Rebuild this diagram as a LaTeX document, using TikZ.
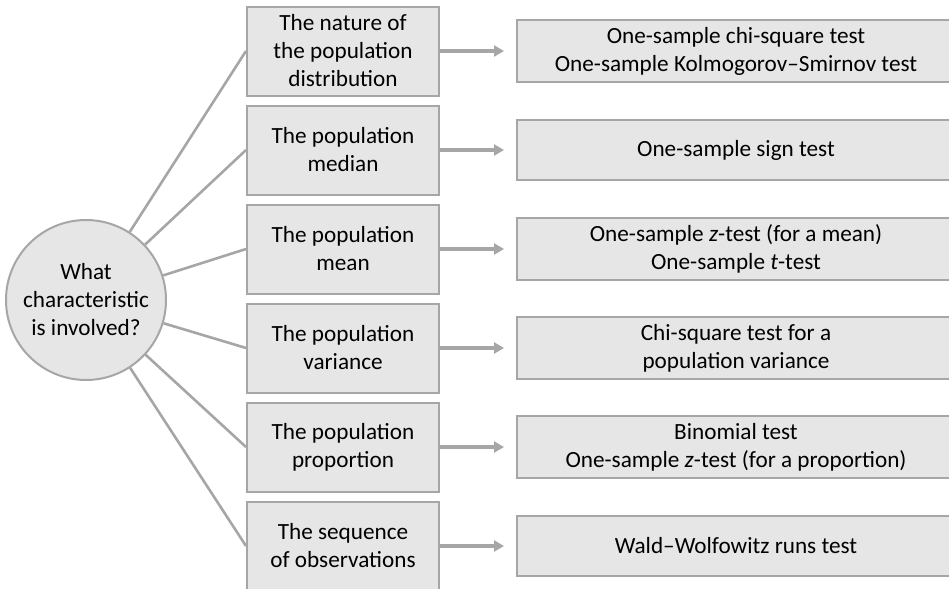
\documentclass[tikz,border=0pt]{standalone}
\usepackage{fontspec}
\setmainfont{Carlito}
\usetikzlibrary{arrows.meta,positioning,chains}
\definecolor{boxfill}{HTML}{E7E6E6}
\definecolor{boxline}{HTML}{A6A6A6}
\tikzstyle{charbox}=[draw=boxline,fill=boxfill,line width=1pt,minimum width=96pt,minimum height=44.5pt,align=center,font=\fontsize{11.6}{14}\selectfont]
\tikzstyle{testbox}=[charbox,minimum width=219pt,minimum height=30pt]
\tikzstyle{link}=[draw=boxline,line width=1.3pt]
\tikzstyle{pointer}=[draw=boxline,line width=1.9pt,-{Triangle[length=5pt,width=5.5pt]},shorten >=6pt]

\begin{document}
\begin{tikzpicture}
		\useasboundingbox (0,0) rectangle (474.5pt,-294.5pt);
		\node[circle,draw=boxline,fill=boxfill,line width=1pt,minimum size=80pt,inner sep=0pt,align=center,font=\fontsize{11.6}{14}\selectfont] (q) at (43pt,-150pt) {What\\characteristic\\is involved?};
		
		\begin{scope}[start chain=1 going below, node distance=4pt]
		\node [on chain=1,charbox] (c1) at (171.5pt,-25.5pt) {The nature of\\the population\\distribution};
		\node [on chain=1,charbox] (c2) {The population\\median};
		\node [on chain=1,charbox] (c3) {The population\\mean};
		\node [on chain=1,charbox] (c4) {The population\\variance};
		\node [on chain=1,charbox] (c5) {The population\\proportion};
		\node [on chain=1,charbox] (c6) {The sequence\\of observations};
		\end{scope}
		
		\node[testbox, right=38pt of c1] (t1) {One-sample chi-square test\\One-sample Kolmogorov--Smirnov test};
		\node[testbox, right=38pt of c2] (t2) {One-sample sign test};
		\node[testbox, right=38pt of c3] (t3) {One-sample \textit{z}-test (for a mean)\\One-sample \textit{t}-test};
		\node[testbox, right=38pt of c4] (t4) {Chi-square test for a\\population variance};
		\node[testbox, right=38pt of c5] (t5) {Binomial test\\One-sample \textit{z}-test (for a proportion)};
		\node[testbox, right=38pt of c6] (t6) {Wald--Wolfowitz runs test};
		
		\draw[link] (q) -- (c1.west);
		\draw[link] (q) -- (c2.west);
		\draw[link] (q) -- (c3.west);
		\draw[link] (q) -- (c4.west);
		\draw[link] (q) -- (c5.west);
		\draw[link] (q) -- (c6.west);
		
		\draw[pointer] (c1) -- (t1);
		\draw[pointer] (c2) -- (t2);
		\draw[pointer] (c3) -- (t3);
		\draw[pointer] (c4) -- (t4);
		\draw[pointer] (c5) -- (t5);
		\draw[pointer] (c6) -- (t6);
\end{tikzpicture}
\end{document}
